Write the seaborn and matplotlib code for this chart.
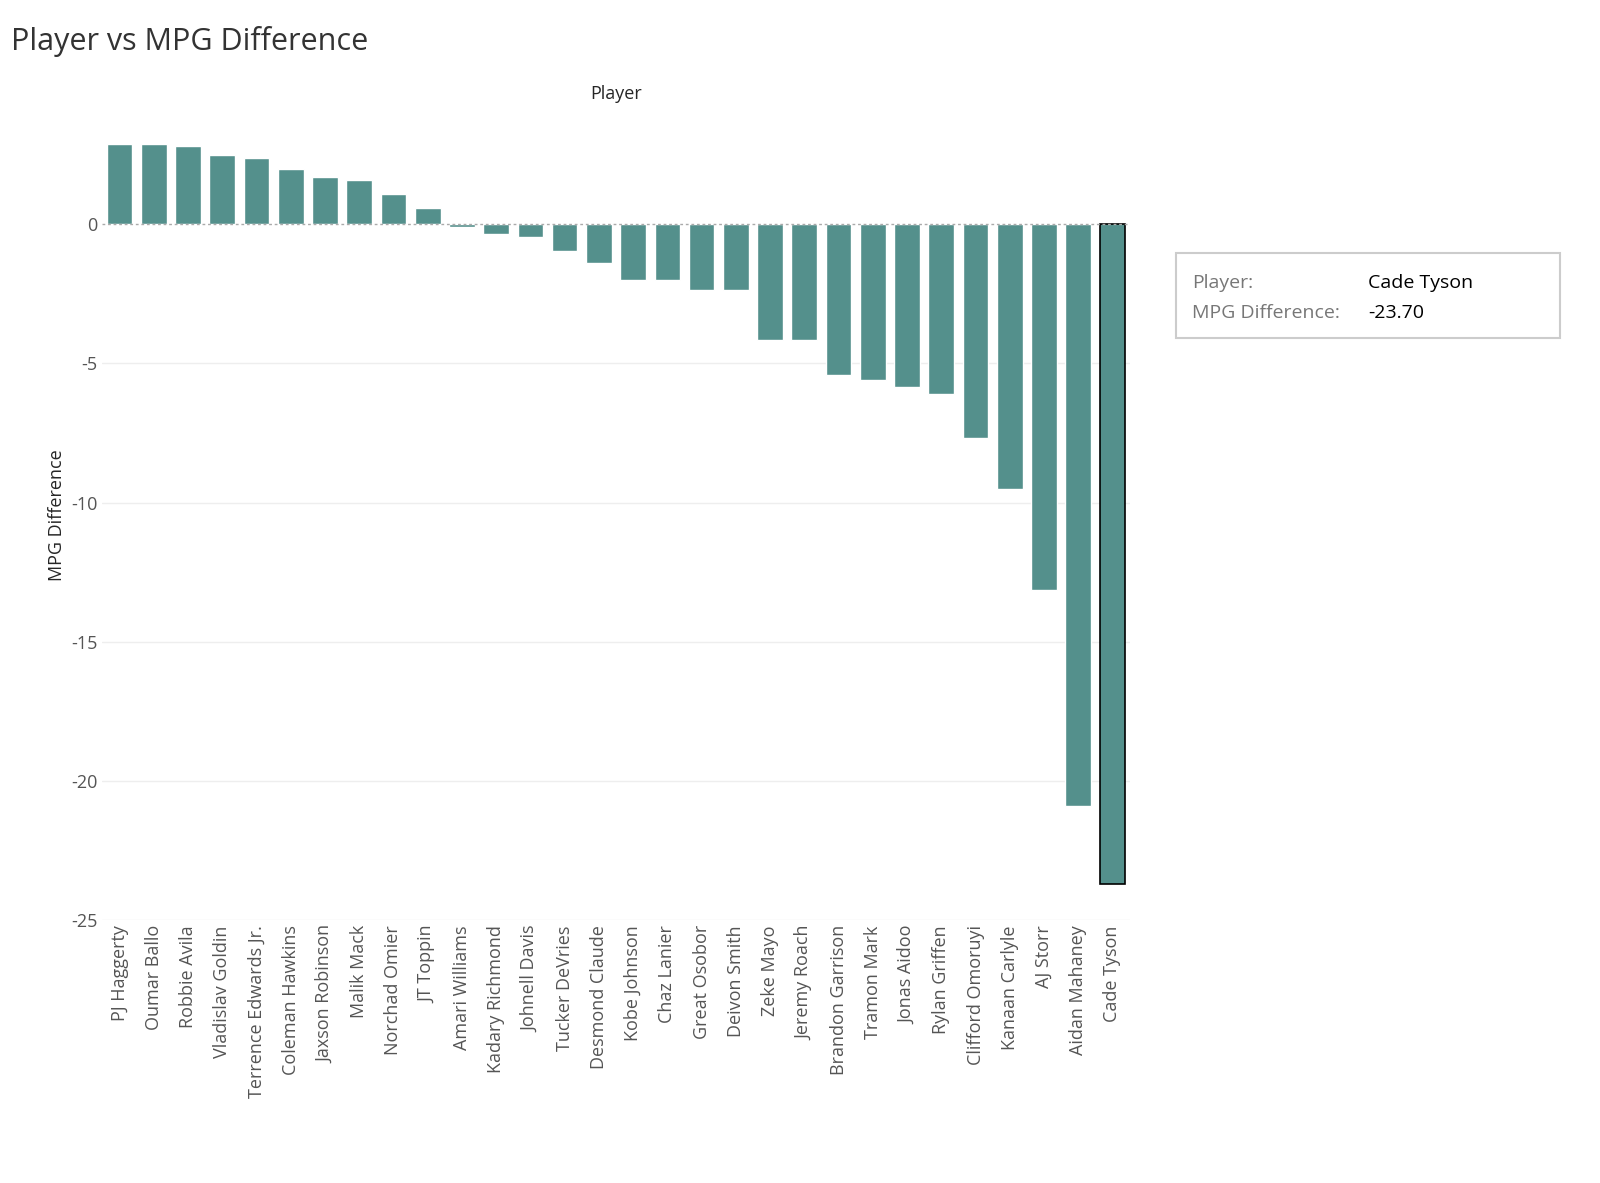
import matplotlib
matplotlib.use("Agg")
import matplotlib.pyplot as plt
import seaborn as sns
import pandas as pd
from matplotlib.patches import FancyBboxPatch

players = ["PJ Haggerty", "Oumar Ballo", "Robbie Avila", "Vladislav Goldin", "Terrence Edwards Jr.",
           "Coleman Hawkins", "Jaxson Robinson", "Malik Mack", "Norchad Omier", "JT Toppin",
           "Amari Williams", "Kadary Richmond", "Johnell Davis", "Tucker DeVries", "Desmond Claude",
           "Kobe Johnson", "Chaz Lanier", "Great Osobor", "Deivon Smith", "Zeke Mayo",
           "Jeremy Roach", "Brandon Garrison", "Tramon Mark", "Jonas Aidoo", "Rylan Griffen",
           "Clifford Omoruyi", "Kanaan Carlyle", "AJ Storr", "Aidan Mahaney", "Cade Tyson"]
mpg_diff = [2.88, 2.88, 2.80, 2.48, 2.37, 1.98, 1.69, 1.58, 1.08, 0.58,
            -0.11, -0.36, -0.47, -0.97, -1.40, -2.01, -2.01, -2.37, -2.37, -4.17,
            -4.17, -5.40, -5.58, -5.86, -6.08, -7.66, -9.50, -13.13, -20.90, -23.70]
yticks = [0, -5, -10, -15, -20, -25]

df = pd.DataFrame({"Player": players, "MPG Difference": mpg_diff})

sns.set_style("white")
plt.rcParams["font.family"] = ["Open Sans", "DejaVu Sans"]

fig = plt.figure(figsize=(16, 11.83), dpi=100)
ax = fig.add_axes([0.064, 0.222, 0.642, 0.685])
sns.barplot(data=df, x="Player", y="MPG Difference", color="#4a9a94", width=0.75, ax=ax)
ax.patches[-1].set_edgecolor("black")
ax.patches[-1].set_linewidth(1.2)

ax.set_ylim(-25.0, 4.1)
ax.set_xlim(-0.5, len(players) - 0.5)
ax.set_yticks(yticks)
ax.set_yticklabels([str(t) for t in yticks], fontsize=13, color="#555555")
ax.tick_params(axis="x", labelrotation=90, labelsize=13, labelcolor="#555555", length=0)
ax.tick_params(axis="y", length=0)
for t in yticks[1:]:
    ax.axhline(t, color="#eeeeee", lw=1, zorder=0)
ax.axhline(0, color="#aaaaaa", lw=1, ls=(0, (2, 2)), zorder=3)
for s in ax.spines.values():
    s.set_visible(False)
ax.set_xlabel("")
ax.set_ylabel("MPG Difference", fontsize=13)
ax.set_title("Player", fontsize=13, pad=8)

fig.text(0.007, 0.965, "Player vs MPG Difference", fontsize=22, color="#333333", va="center")

box = FancyBboxPatch((0.735, 0.714), 0.24, 0.072, boxstyle="square,pad=0",
                     transform=fig.transFigure, facecolor="white", edgecolor="#cccccc", lw=1.5)
fig.patches.append(box)
fig.text(0.745, 0.761, "Player:", fontsize=14, color="#777777", va="center")
fig.text(0.855, 0.761, players[-1], fontsize=14, color="black", va="center")
fig.text(0.745, 0.735, "MPG Difference:", fontsize=14, color="#777777", va="center")
fig.text(0.855, 0.735, f"{mpg_diff[-1]:.2f}", fontsize=14, color="black", va="center")

fig.savefig("out.png", dpi=100)
